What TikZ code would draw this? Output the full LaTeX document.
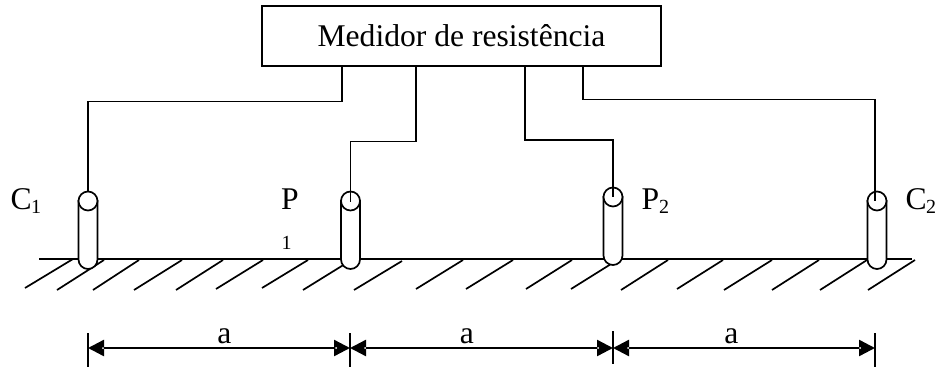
\documentclass[tikz,border=0pt]{standalone}
\usepackage{fontspec}
\setmainfont{Liberation Serif}
\usetikzlibrary{arrows.meta}
\newcommand{\bigtxt}{\fontsize{31.6}{36}\selectfont}
\newcommand{\subtxt}{\fontsize{20}{24}\selectfont}
\tikzset{
  x=1pt,y=-1pt,
  line/.style={line width=2pt,black},
  hatch/.style={line width=1.7pt,black},
  wire/.style={line width=1.9pt,black},
  rodbody/.style={line width=1.7pt,draw=black,fill=white},
  rodhead/.style={circle,draw=black,fill=white,line width=1.7pt,minimum size=19pt,inner sep=0pt,outer sep=0pt},
  meter/.style={draw=black,line width=1.9pt,fill=white,inner sep=0pt,outer sep=0pt,minimum width=399pt,minimum height=60pt,font=\bigtxt},
  lbl/.style={anchor=base west,inner sep=0pt,outer sep=0pt,font=\bigtxt},
  sublbl/.style={anchor=base west,inner sep=0pt,outer sep=0pt,font=\subtxt},
  tick/.style={line width=1.9pt,black},
  dim/.style={line width=2.4pt,black,{Triangle[length=16pt,width=16pt]}-{Triangle[length=16pt,width=16pt]}},
}
% x, bottom y, head centre y, node name
\newcommand{\rod}[4]{%
  \path[rodbody] (#1-9.5,#3) -- (#1-9.5,#2-9.5) arc[start angle=180,end angle=360,radius=9.5pt] -- (#1+9.5,#3) -- cycle;
  \node[rodhead] (#4) at (#1,#3) {};
}
\begin{document}
\begin{tikzpicture}
\useasboundingbox (0,0) rectangle (940,369);
\draw[line] (39,259) -- (912,259);
\foreach \xa/\ya/\xb/\yb in {
 25/288/73/259, 57/290/104/260, 93/290/139/260, 134/290/182/260, 176/290/223/260,
 216/289/263/260, 262/288/308/260, 303/290/345/264, 354/290/402/261,
 416/289/463/260, 466/289/513/260, 526/289/572/260, 571/289/611/264,
 621/290/668/260, 677/289/723/260, 724/290/772/260, 772/290/819/260, 820/290/867/260, 868/290/915/260}{
    \draw[hatch] (\xa,\ya) -- (\xb,\yb);
}
\rod{88}{269}{201}{cone}
\rod{350.5}{269}{201}{pone}
\rod{613}{265}{197}{ptwo}
\rod{877}{269}{201}{ctwo}
\node[meter] (m) at (461.5,36) {Medidor de resistência};
\coordinate (wa) at (342,66);
\coordinate (wb) at (415.7,66);
\coordinate (wc) at (525,66);
\coordinate (wd) at (583,66);
\draw[wire] (wa) -- (342,101.5) -- (88,101.5) -- (cone.north);
\draw[wire] (wb) -- (415.7,141.5) -- (350.5,141.5) -- (350.5,202);
\draw[wire] (wc) -- (525,140) -- (612.7,140) -- (612.7,197);
\draw[wire] (wd) -- (583,99.5) -- (875,99.5) -- (875,201);
\node[lbl] (lc1) at (10.5,209) {C};
\node[sublbl] (lc1s) at (31,213) {1};
\node[lbl] (lp1) at (281,209) {P};
\node[sublbl] (lp1s) at (281.5,249) {1};
\node[lbl] (lp2) at (641.5,209) {P};
\node[sublbl] (lp2s) at (659,213) {2};
\node[lbl] (lc2) at (905.5,209) {C};
\node[sublbl] (lc2s) at (926,213) {2};
\coordinate (d1) at (88,348);
\coordinate (d2) at (350,348);
\coordinate (d3) at (613,348);
\coordinate (d4) at (875,348);
\draw[tick] (88,333) -- (88,367);
\draw[tick] (350,333) -- (350,367);
\draw[tick] (613,331) -- (613,364);
\draw[tick] (875,333) -- (875,367);
\draw[dim] (d1) -- (d2);
\draw[dim] (d2) -- (d3);
\draw[dim] (d3) -- (d4);
\foreach \p in {103,336,365,598,628,860}{\fill[white] (\p,348) circle[radius=1pt];}
\node[lbl,anchor=base] (a1) at (224.5,343) {a};
\node[lbl,anchor=base] (a2) at (467,343) {a};
\node[lbl,anchor=base] (a3) at (731.5,343) {a};
\end{tikzpicture}
\end{document}
